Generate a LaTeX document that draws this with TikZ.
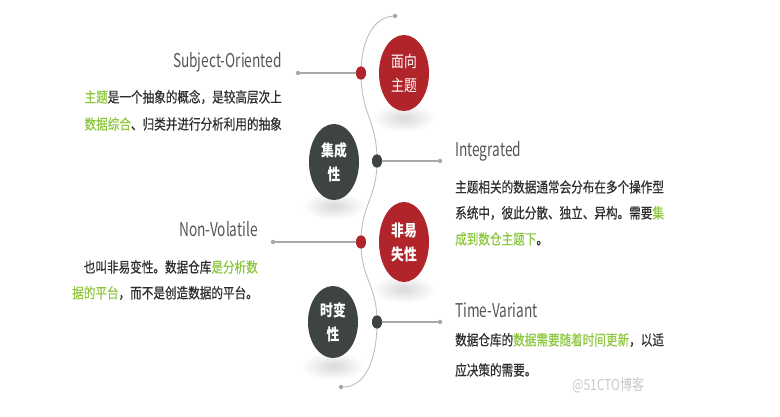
\documentclass[tikz,border=0pt]{standalone}
\usepackage{fontspec}
\usetikzlibrary{shapes.geometric}
\setmainfont[FakeStretch=0.8, FakeBold=0.5]{Noto Sans CJK SC}
\newfontfamily\titlefont[FakeStretch=0.72]{Noto Sans CJK SC}
\newfontfamily\discfont[FakeStretch=0.8]{Noto Sans CJK SC}
\definecolor{zred}{HTML}{B0242A}
\definecolor{zdark}{HTML}{3E4343}
\definecolor{zgreen}{HTML}{8DC63F}
\definecolor{ztext}{HTML}{2E2E2E}
\definecolor{ztitle}{HTML}{555555}
\definecolor{zline}{HTML}{A8A8A8}
\definecolor{zmark}{HTML}{C8C8C8}

\begin{document}
\begin{tikzpicture}[x=1pt, y=-1pt, line cap=round, line join=round,
  disc/.style={ellipse, inner sep=0pt, minimum width=50pt, text=white, align=center,
    font=\discfont\fontsize{16}{24}\selectfont},
  reddisc/.style={disc, fill=zred},
  darkdisc/.style={disc, fill=zdark, font=\discfont\bfseries\fontsize{16}{24}\selectfont},
  knot/.style={ellipse, inner sep=0pt, minimum width=10pt, minimum height=13pt},
  tip/.style={circle, fill=zline, inner sep=0pt, minimum size=4.5pt},
  link/.style={draw=zline, line width=1.3pt},
  wave/.style={draw=zline!75, line width=0.9pt},
  title/.style={inner sep=0pt, text=ztitle, font=\titlefont\fontsize{19}{22}\selectfont},
  body/.style={inner sep=0pt, text=ztext, font=\fontsize{14.5}{18}\selectfont}]

  %% ════ 阴影（圆下方的灰色投影）════
  \shade[inner color=black!15, outer color=white] (404,118) ellipse (32 and 14);
  \shade[inner color=black!15, outer color=white] (334,206) ellipse (32 and 14);
  \shade[inner color=black!15, outer color=white] (404,289) ellipse (32 and 14);
  \shade[inner color=black!15, outer color=white] (333,366) ellipse (32 and 14);

  %% ════ 主干的节点：波浪线上的点与两端 ════
  \node[tip] (top) at (395,16) {};
  \node[knot, fill=zred]  (k1) at (361,73) {};
  \node[knot, fill=zdark] (k2) at (377,161) {};
  \node[knot, fill=zred]  (k3) at (361,242) {};
  \node[knot, fill=zdark] (k4) at (377,322) {};
  \node[tip] (bot) at (341,387) {};

  %% ════ 波浪线 ════
  \draw[wave] (top) .. controls +(-24,2) and +(0,-28) .. (k1.center)
    .. controls +(0,42) and +(0,-42) .. (k2.center)
    .. controls +(0,38) and +(0,-38) .. (k3.center)
    .. controls +(0,38) and +(0,-38) .. (k4.center)
    .. controls +(0,42) and +(22,0) .. (bot);
  \foreach \k/\c in {k1/zred, k2/zdark, k3/zred, k4/zdark}
    \fill[\c] (\k.center) ellipse (5 and 6.5);

  %% ════ 四个大圆 ════
  \node[reddisc, minimum height=76pt]  (c1) at (404,73)  {面向\\主题};
  \node[darkdisc, minimum height=76pt] (c2) at (334,162) {集成\\性};
  \node[reddisc, minimum height=80pt, font=\discfont\bfseries\fontsize{16}{24}\selectfont] (c3) at (404,242) {非易\\失性};
  \node[darkdisc, minimum height=72pt] (c4) at (333,322) {时变\\性};

  %% ════ 引线 ════
  \node[tip] (e1) at (298,73) {};
  \node[tip] (e2) at (440,161) {};
  \node[tip] (e3) at (273,242) {};
  \node[tip] (e4) at (440,322) {};
  \draw[link] (e1) -- (k1);
  \draw[link] (k2) -- (e2);
  \draw[link] (e3) -- (k3);
  \draw[link] (k4) -- (e4);

  %% ════ 文字 ════
  \node[title, anchor=east] (t1) at (282,62) {Subject-Oriented};
  \node[body, anchor=east] (t1a) at (282,97) {\textcolor{zgreen}{主题}是一个抽象的概念，是较高层次上};
  \node[body, anchor=east] (t1b) at (282,124) {\textcolor{zgreen}{数据综合}、归类并进行分析利用的抽象};

  \node[title, anchor=west] (t2) at (455,151) {Integrated};
  \node[body, anchor=west] (t2a) at (455,187) {主题相关的数据通常会分布在多个操作型};
  \node[body, anchor=west] (t2b) at (455,213) {系统中，彼此分散、独立、异构。需要\textcolor{zgreen}{集}};
  \node[body, anchor=west] (t2c) at (455,239) {\textcolor{zgreen}{成到数仓主题下}。};

  \node[title, anchor=east] (t3) at (258,229) {Non-Volatile};
  \node[body, anchor=east] (t3a) at (258,267) {也叫非易变性。数据仓库\textcolor{zgreen}{是分析数}};
  \node[body, anchor=east] (t3b) at (258,293) {\textcolor{zgreen}{据的平台}，而不是创造数据的平台。};

  \node[title, anchor=west] (t4) at (455,310) {Time-Variant};
  \node[body, anchor=west] (t4a) at (455,340) {数据仓库的\textcolor{zgreen}{数据需要随着时间更新}，以适};
  \node[body, anchor=west] (t4b) at (455,370) {应决策的需要。};

  \node[inner sep=0pt, anchor=west, text=zmark, font=\discfont\fontsize{15}{18}\selectfont] (wm) at (572,385) {@51CTO博客};

  % 钉死画布
  \pgfresetboundingbox
  \path[use as bounding box] (0,0) rectangle (780,417);
\end{tikzpicture}
\end{document}
